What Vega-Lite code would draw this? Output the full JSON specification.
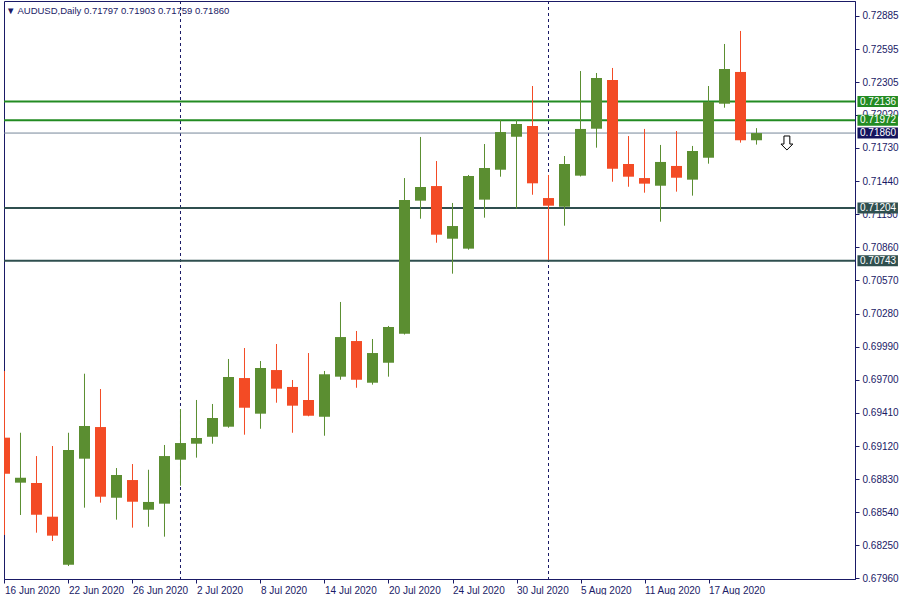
{
  "$schema": "https://vega.github.io/schema/vega-lite/v6.json",
  "width": 851,
  "height": 578,
  "padding": {"left": 3, "top": 0, "right": 0, "bottom": 0},
  "background": "white",
  "view": {"stroke": "#1a1a66", "strokeWidth": 1},
  "config": {
    "font": "Liberation Sans",
    "axis": {"labelOverlap": false},
    "scale": {"continuousPadding": 0}
  },
  "datasets": {
    "candles": [
      {"d": "2020-06-16", "i": 0, "o": 0.69193, "h": 0.69777, "l": 0.68341, "c": 0.68877},
      {"d": "2020-06-17", "i": 1, "o": 0.68799, "h": 0.69236, "l": 0.68516, "c": 0.68842},
      {"d": "2020-06-18", "i": 2, "o": 0.68796, "h": 0.69032, "l": 0.68361, "c": 0.68518},
      {"d": "2020-06-19", "i": 3, "o": 0.68501, "h": 0.69120, "l": 0.68288, "c": 0.68335},
      {"d": "2020-06-22", "i": 4, "o": 0.68081, "h": 0.69236, "l": 0.68069, "c": 0.69085},
      {"d": "2020-06-23", "i": 5, "o": 0.69009, "h": 0.69753, "l": 0.68580, "c": 0.69295},
      {"d": "2020-06-24", "i": 6, "o": 0.69286, "h": 0.69619, "l": 0.68624, "c": 0.68676},
      {"d": "2020-06-25", "i": 7, "o": 0.68667, "h": 0.68927, "l": 0.68475, "c": 0.68866},
      {"d": "2020-06-26", "i": 8, "o": 0.68822, "h": 0.68962, "l": 0.68405, "c": 0.68632},
      {"d": "2020-06-29", "i": 9, "o": 0.68562, "h": 0.68912, "l": 0.68413, "c": 0.68630},
      {"d": "2020-06-30", "i": 10, "o": 0.68615, "h": 0.69129, "l": 0.68326, "c": 0.69032},
      {"d": "2020-07-01", "i": 11, "o": 0.69000, "h": 0.69444, "l": 0.68772, "c": 0.69146},
      {"d": "2020-07-02", "i": 12, "o": 0.69140, "h": 0.69523, "l": 0.69018, "c": 0.69190},
      {"d": "2020-07-03", "i": 13, "o": 0.69201, "h": 0.69488, "l": 0.69140, "c": 0.69365},
      {"d": "2020-07-06", "i": 14, "o": 0.69289, "h": 0.69882, "l": 0.69280, "c": 0.69724},
      {"d": "2020-07-07", "i": 15, "o": 0.69715, "h": 0.69978, "l": 0.69219, "c": 0.69455},
      {"d": "2020-07-08", "i": 16, "o": 0.69403, "h": 0.69864, "l": 0.69271, "c": 0.69803},
      {"d": "2020-07-09", "i": 17, "o": 0.69785, "h": 0.70013, "l": 0.69499, "c": 0.69622},
      {"d": "2020-07-10", "i": 18, "o": 0.69637, "h": 0.69698, "l": 0.69236, "c": 0.69473},
      {"d": "2020-07-13", "i": 19, "o": 0.69523, "h": 0.69934, "l": 0.69380, "c": 0.69385},
      {"d": "2020-07-14", "i": 20, "o": 0.69376, "h": 0.69777, "l": 0.69210, "c": 0.69748},
      {"d": "2020-07-15", "i": 21, "o": 0.69727, "h": 0.70381, "l": 0.69700, "c": 0.70074},
      {"d": "2020-07-16", "i": 22, "o": 0.70039, "h": 0.70127, "l": 0.69630, "c": 0.69700},
      {"d": "2020-07-17", "i": 23, "o": 0.69674, "h": 0.70057, "l": 0.69657, "c": 0.69934},
      {"d": "2020-07-20", "i": 24, "o": 0.69849, "h": 0.70171, "l": 0.69727, "c": 0.70162},
      {"d": "2020-07-21", "i": 25, "o": 0.70103, "h": 0.71466, "l": 0.70096, "c": 0.71274},
      {"d": "2020-07-22", "i": 26, "o": 0.71268, "h": 0.71826, "l": 0.71110, "c": 0.71388},
      {"d": "2020-07-23", "i": 27, "o": 0.71396, "h": 0.71615, "l": 0.70900, "c": 0.70970},
      {"d": "2020-07-24", "i": 28, "o": 0.70935, "h": 0.71248, "l": 0.70629, "c": 0.71046},
      {"d": "2020-07-27", "i": 29, "o": 0.70848, "h": 0.71493, "l": 0.70839, "c": 0.71484},
      {"d": "2020-07-28", "i": 30, "o": 0.71277, "h": 0.71764, "l": 0.71119, "c": 0.71554},
      {"d": "2020-07-29", "i": 31, "o": 0.71539, "h": 0.71974, "l": 0.71478, "c": 0.71869},
      {"d": "2020-07-30", "i": 32, "o": 0.71828, "h": 0.71974, "l": 0.71198, "c": 0.71939},
      {"d": "2020-07-31", "i": 33, "o": 0.71922, "h": 0.72272, "l": 0.71320, "c": 0.71420},
      {"d": "2020-08-03", "i": 34, "o": 0.71291, "h": 0.71493, "l": 0.70749, "c": 0.71224},
      {"d": "2020-08-04", "i": 35, "o": 0.71215, "h": 0.71659, "l": 0.71049, "c": 0.71589},
      {"d": "2020-08-05", "i": 36, "o": 0.71487, "h": 0.72403, "l": 0.71480, "c": 0.71896},
      {"d": "2020-08-06", "i": 37, "o": 0.71898, "h": 0.72386, "l": 0.71732, "c": 0.72342},
      {"d": "2020-08-07", "i": 38, "o": 0.72325, "h": 0.72430, "l": 0.71434, "c": 0.71548},
      {"d": "2020-08-10", "i": 39, "o": 0.71589, "h": 0.71834, "l": 0.71390, "c": 0.71478},
      {"d": "2020-08-11", "i": 40, "o": 0.71466, "h": 0.71896, "l": 0.71338, "c": 0.71417},
      {"d": "2020-08-12", "i": 41, "o": 0.71399, "h": 0.71756, "l": 0.71084, "c": 0.71607},
      {"d": "2020-08-13", "i": 42, "o": 0.71572, "h": 0.71878, "l": 0.71347, "c": 0.71469},
      {"d": "2020-08-14", "i": 43, "o": 0.71452, "h": 0.71747, "l": 0.71312, "c": 0.71703},
      {"d": "2020-08-17", "i": 44, "o": 0.71644, "h": 0.72272, "l": 0.71592, "c": 0.72132},
      {"d": "2020-08-18", "i": 45, "o": 0.72117, "h": 0.72640, "l": 0.72082, "c": 0.72421},
      {"d": "2020-08-19", "i": 46, "o": 0.72395, "h": 0.72754, "l": 0.71776, "c": 0.71797},
      {"d": "2020-08-20", "i": 47, "o": 0.71797, "h": 0.71903, "l": 0.71759, "c": 0.71860}
    ],
    "levels": [
      {"p": 0.72136, "kind": "resistance", "label": "0.72136"},
      {"p": 0.71972, "kind": "resistance", "label": "0.71972"},
      {"p": 0.71860, "kind": "price", "label": "0.71860"},
      {"p": 0.71204, "kind": "support", "label": "0.71204"},
      {"p": 0.70743, "kind": "support", "label": "0.70743"}
    ],
    "separators": [{"i": 11}, {"i": 34}],
    "signal": [{"i": 48.9, "p": 0.71773}],
    "header": [{"text": "▼ AUDUSD,Daily  0.71797 0.71903 0.71759 0.71860"}]
  },
  "layer": [
    {
      "data": {"name": "separators"},
      "mark": {"type": "rule", "color": "#1a1a66", "strokeWidth": 1, "strokeDash": [3, 3]},
      "encoding": {
        "x": {
          "field": "i", "type": "quantitative",
          "scale": {"domain": [-0.031, 53.156], "nice": false, "zero": false, "padding": 0},
          "axis": {
            "values": [0, 4, 8, 12, 16, 20, 24, 28, 32, 36, 40, 44],
            "tickCount": 60,
            "labelExpr": "['16 Jun 2020','22 Jun 2020','26 Jun 2020','2 Jul 2020','8 Jul 2020','14 Jul 2020','20 Jul 2020','24 Jul 2020','30 Jul 2020','5 Aug 2020','11 Aug 2020','17 Aug 2020'][round(datum.value/4)]",
            "title": null, "grid": false, "tickSize": 4, "labelAlign": "left",
            "labelPadding": 2, "labelFontSize": 10, "labelColor": "#1a1a66",
            "domainColor": "#1a1a66", "tickColor": "#1a1a66", "labelOverlap": false,
            "labelBound": false, "labelFlush": false
          }
        }
      }
    },
    {
      "data": {"name": "levels"},
      "mark": {"type": "rule", "clip": true},
      "encoding": {
        "y": {
          "field": "p", "type": "quantitative",
          "scale": {"domain": [0.679555, 0.730163], "nice": false, "zero": false, "padding": 0},
          "axis": {
            "orient": "right",
            "values": [0.6796, 0.6825, 0.6854, 0.6883, 0.6912, 0.6941, 0.697, 0.6999, 0.7028, 0.7057, 0.7086, 0.7115, 0.7144, 0.7173, 0.7202, 0.72305, 0.72595, 0.72885],
            "tickCount": 60,
            "format": ".5f", "title": null, "grid": false, "tickSize": 4,
            "labelPadding": 3, "labelFontSize": 10, "labelColor": "#1a1a66",
            "domainColor": "#1a1a66", "tickColor": "#1a1a66", "labelOverlap": false,
            "labelBound": false, "labelFlush": false, "labelBaseline": "middle"
          }
        },
        "color": {
          "field": "kind", "type": "nominal",
          "scale": {"domain": ["resistance", "price", "support"], "range": ["#228b22", "#778899", "#2f4f4f"]},
          "legend": null
        },
        "strokeWidth": {
          "condition": {"test": "datum.kind === 'price'", "value": 1},
          "value": 2
        }
      }
    },
    {
      "data": {"name": "candles"},
      "mark": {"type": "rule", "strokeWidth": 1, "clip": true},
      "encoding": {
        "x": {"field": "i", "type": "quantitative"},
        "y": {"field": "l", "type": "quantitative"},
        "y2": {"field": "h"},
        "color": {
          "condition": {"test": "datum.c >= datum.o", "value": "#5b8e31"},
          "value": "#f34b25"
        }
      }
    },
    {
      "data": {"name": "candles"},
      "mark": {"type": "bar", "size": 11, "clip": true},
      "encoding": {
        "x": {"field": "i", "type": "quantitative"},
        "y": {"field": "o", "type": "quantitative"},
        "y2": {"field": "c"},
        "color": {
          "condition": {"test": "datum.c >= datum.o", "value": "#5b8e31"},
          "value": "#f34b25"
        }
      }
    },
    {
      "data": {"name": "signal"},
      "mark": {
        "type": "point", "filled": true, "fill": "white", "stroke": "#000000", "strokeWidth": 1, "opacity": 1,
        "shape": "M-0.42,-1L0.42,-1L0.42,0.15L0.85,0.15L0,1L-0.85,0.15L-0.42,0.15Z",
        "size": 196
      },
      "encoding": {
        "x": {"field": "i", "type": "quantitative"},
        "y": {"field": "p", "type": "quantitative"}
      }
    },
    {
      "data": {"name": "levels"},
      "mark": {"type": "bar", "size": 11, "clip": false},
      "encoding": {
        "x": {"datum": 53.31, "type": "quantitative"},
        "x2": {"datum": 55.84},
        "y": {"field": "p", "type": "quantitative"},
        "color": {
          "field": "kind", "type": "nominal",
          "scale": {"domain": ["resistance", "price", "support"], "range": ["#228b22", "#14145e", "#2f4f4f"]},
          "legend": null
        }
      }
    },
    {
      "data": {"name": "levels"},
      "mark": {"type": "text", "align": "left", "baseline": "middle", "fontSize": 10, "color": "white", "clip": false},
      "encoding": {
        "x": {"datum": 53.47, "type": "quantitative"},
        "y": {"field": "p", "type": "quantitative"},
        "text": {"field": "label"}
      }
    },
    {
      "data": {"name": "header"},
      "mark": {"type": "text", "align": "left", "baseline": "middle", "fontSize": 9.5, "color": "#1a1a66"},
      "encoding": {
        "x": {"datum": 0.09, "type": "quantitative"},
        "y": {"datum": 0.72929, "type": "quantitative"},
        "text": {"field": "text"}
      }
    }
  ],
  "resolve": {"scale": {"color": "independent"}}
}
